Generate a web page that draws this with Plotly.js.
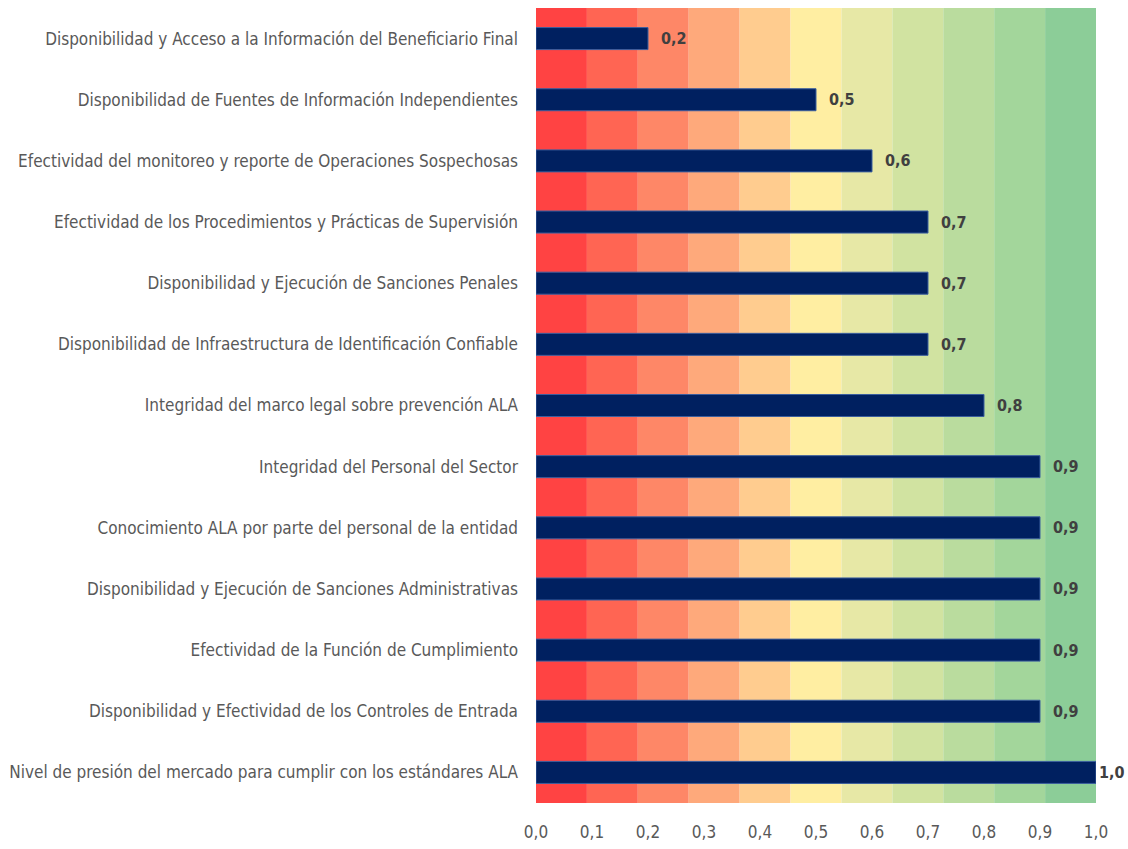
<!DOCTYPE html>
<html>
<head>
<meta charset="utf-8">
<script src="https://cdn.plot.ly/plotly-3.0.1.min.js"></script>
<style>html,body{margin:0;padding:0;background:#fff}#chart{width:1128px;height:849px}</style>
</head>
<body>
<div id="chart"></div>
<script>
const categories = [
  "Disponibilidad y Acceso a la Información del Beneficiario Final",
  "Disponibilidad de Fuentes de Información Independientes",
  "Efectividad del monitoreo y reporte de Operaciones Sospechosas",
  "Efectividad de los Procedimientos y Prácticas de Supervisión",
  "Disponibilidad y Ejecución de Sanciones Penales",
  "Disponibilidad de Infraestructura de Identificación Confiable",
  "Integridad del marco legal sobre prevención ALA",
  "Integridad del Personal del Sector",
  "Conocimiento ALA por parte del personal de la entidad",
  "Disponibilidad y Ejecución de Sanciones Administrativas",
  "Efectividad de la Función de Cumplimiento",
  "Disponibilidad y Efectividad de los Controles de Entrada",
  "Nivel de presión del mercado para cumplir con los estándares ALA"
];
const values = [0.2, 0.5, 0.6, 0.7, 0.7, 0.7, 0.8, 0.9, 0.9, 0.9, 0.9, 0.9, 1.0];
const bandEdges = [0, 1/11, 2/11, 3/11, 4/11, 5/11, 6/11, 7/11, 8/11, 9/11, 10/11, 1];
const bandColors = ["#FF4343", "#FF6553", "#FE8767", "#FEA97B", "#FFCC8F", "#FFEEA2",
                    "#E7E8A6", "#D1E3A1", "#BADC9E", "#A3D69B", "#8CCD98"];
const tickVals = [0, 0.1, 0.2, 0.3, 0.4, 0.5, 0.6, 0.7, 0.8, 0.9, 1.0];

const FONT = '"Liberation Sans Narrow", "DejaVu Sans Condensed", Arial, sans-serif';

const shapes = bandColors.map((c, i) => ({
  type: 'rect', xref: 'x', yref: 'paper', layer: 'below',
  x0: bandEdges[i], x1: bandEdges[i + 1], y0: 0, y1: 1,
  fillcolor: c, line: {width: 0}
}));

const trace = {
  type: 'bar', orientation: 'h',
  x: values, y: categories,
  width: 0.36,
  marker: {color: '#002060', line: {color: '#3B5E9E', width: 1}},
  text: values.map(v => v.toFixed(1).replace('.', ',')),
  texttemplate: values.map(v => (v >= 1 ? '%{text}' : '  %{text}')),
  textposition: 'outside',
  cliponaxis: false,
  textfont: {family: FONT, size: 16, color: '#404040', weight: 'bold'},
  hoverinfo: 'skip'
};

const layout = {
  width: 1128, height: 849,
  margin: {l: 536, r: 32, t: 8, b: 46},
  paper_bgcolor: '#ffffff', plot_bgcolor: '#ffffff',
  separators: ',.',
  showlegend: false,
  font: {family: FONT, size: 17, color: '#595959'},
  xaxis: {
    range: [0, 1], tickvals: tickVals, tickformat: '.1f',
    showgrid: false, zeroline: false, showline: false, ticks: '',
    ticklabelstandoff: 17,
    tickfont: {family: FONT, size: 17, color: '#595959'}
  },
  yaxis: {
    autorange: 'reversed', showgrid: false, zeroline: false, showline: false,
    ticks: '', ticklabelstandoff: 17,
    tickfont: {family: FONT, size: 17, color: '#595959'}
  },
  shapes: shapes
};

Plotly.newPlot('chart', [trace], layout, {displayModeBar: false, staticPlot: true});
</script>
</body>
</html>
